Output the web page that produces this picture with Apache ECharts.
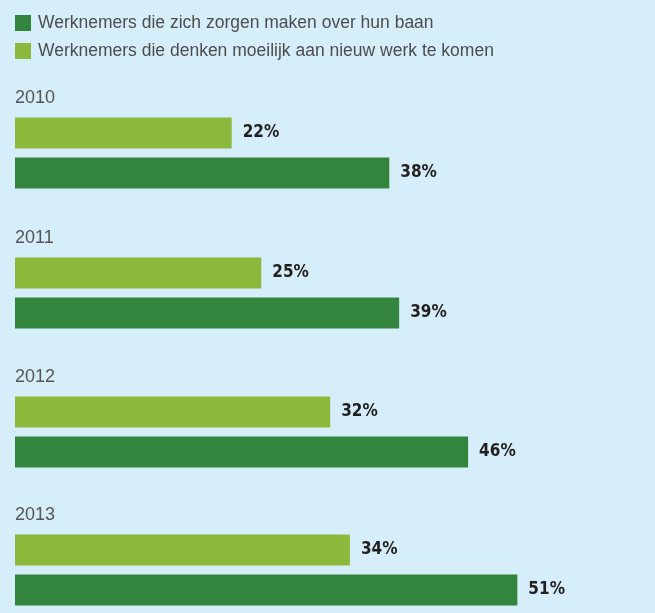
<!DOCTYPE html>
<html>
<head>
<meta charset="utf-8">
<script src="https://cdn.jsdelivr.net/npm/echarts@6/dist/echarts.min.js"></script>
<style>
  html, body { margin: 0; padding: 0; background: #d6edfa; }
  #chart { width: 655px; height: 613px; }
</style>
</head>
<body>
<div id="chart"></div>
<script>
// data
const years = ['2010', '2011', '2012', '2013'];
const seriesNames = [
    'Werknemers die zich zorgen maken over hun baan',
    'Werknemers die denken moeilijk aan nieuw werk te komen'
];
const zorgen = [38, 39, 46, 51];   // dark green
const moeilijk = [22, 25, 32, 34]; // light green

const darkGreen = '#33853e';
const lightGreen = '#8cb93c';

const chart = echarts.init(document.getElementById('chart'));

// one grid per year
const gridTops = [113, 253, 392, 530];
const grids = [], xAxes = [], yAxes = [], titles = [], series = [];

const labelStyle = {
    show: true,
    position: 'right',
    distance: 11,
    formatter: '{c}%',
    color: '#231f20',
    fontWeight: 'bold',
    fontSize: 17,
    fontFamily: '"DejaVu Sans Condensed", "Liberation Sans Narrow", "Liberation Sans", sans-serif'
};

years.forEach((year, i) => {
    grids.push({ left: 15, top: gridTops[i], width: 591, height: 80 });
    xAxes.push({ type: 'value', gridIndex: i, min: 0, max: 60, show: false });
    yAxes.push({ type: 'category', gridIndex: i, data: [year], inverse: true, show: false });
    titles.push({
        text: year,
        left: 15,
        top: gridTops[i] - 24,
        padding: 0,
        textStyle: {
            color: '#555555',
            fontWeight: 'normal',
            fontSize: 18,
            fontFamily: '"Liberation Sans", Arial, sans-serif'
        }
    });
    series.push({
        name: seriesNames[1],
        type: 'bar',
        xAxisIndex: i,
        yAxisIndex: i,
        data: [moeilijk[i]],
        barWidth: 31,
        barGap: '29%',
        itemStyle: { color: lightGreen },
        label: labelStyle,
        silent: true
    });
    series.push({
        name: seriesNames[0],
        type: 'bar',
        xAxisIndex: i,
        yAxisIndex: i,
        data: [zorgen[i]],
        barWidth: 31,
        barGap: '29%',
        itemStyle: { color: darkGreen },
        label: labelStyle,
        silent: true
    });
});

const option = {
    backgroundColor: '#d6edfa',
    animation: false,
    title: titles,
    legend: {
        data: seriesNames,
        orient: 'vertical',
        left: 15,
        top: 14,
        padding: 0,
        itemWidth: 16,
        itemHeight: 16,
        itemGap: 10,
        icon: 'rect',
        selectedMode: false,
        textStyle: {
            color: '#4d4d4d',
            fontSize: 17.5,
            padding: [0, 0, 0, 2],
            fontFamily: '"Liberation Sans", Arial, sans-serif'
        }
    },
    grid: grids,
    xAxis: xAxes,
    yAxis: yAxes,
    series: series
};

chart.setOption(option);
</script>
</body>
</html>
